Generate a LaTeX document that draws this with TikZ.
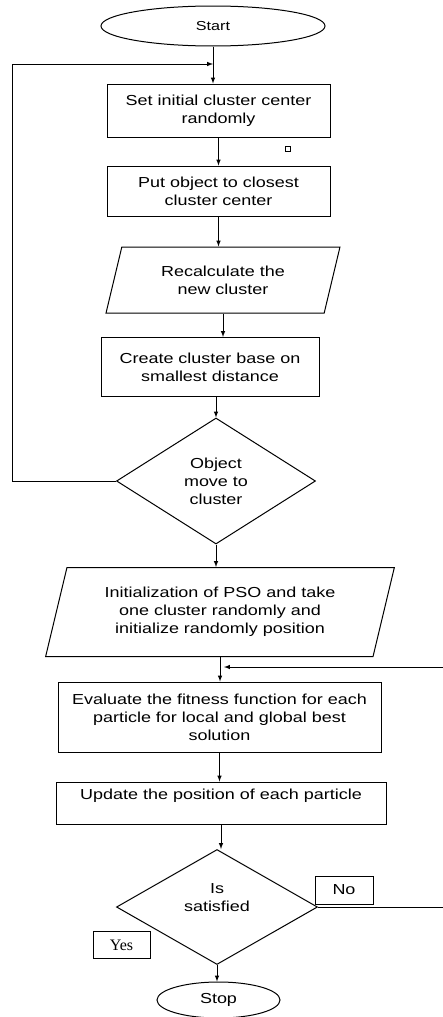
\documentclass[tikz,border=0pt]{standalone}
\usepackage{fontspec}
\setmainfont[FakeStretch=1.24]{Liberation Sans}
\newfontfamily\yesfont{Liberation Serif}
\usepackage{tikz}
\usetikzlibrary{shapes,arrows,shapes.geometric}
\usetikzlibrary{positioning}

\newcommand\boxfont{\fontsize{14.5}{18}\selectfont}
\tikzset{
	blk/.style={draw, rectangle, inner sep=2pt, align=center, font=\boxfont},
	io/.style={draw, trapezium, trapezium left angle=73, trapezium right angle=107,
		trapezium stretches=true, inner sep=2pt, align=center, font=\boxfont},
	dec/.style={draw, diamond, inner sep=0pt, align=center, font=\boxfont},
	term/.style={draw, ellipse, inner sep=0pt},
	tag/.style={draw, rectangle, inner sep=0pt},
}

\begin{document}
\begin{tikzpicture}[line width=1pt,x=1pt,y=-1pt]
		\useasboundingbox (0,0) rectangle (443,1017);
		% k-means part
		\node[term,minimum width=224pt,minimum height=40pt,font=\fontsize{13}{16}\selectfont] (start) at (213,26) {Start};
		\node[blk,minimum width=223pt,minimum height=53pt] (set) at (218.5,110.5) {Set initial cluster center\\randomly};
		\node[blk,minimum width=223pt,minimum height=50pt] (put) at (218.5,191) {Put object to closest\\cluster center};
		\node[io,minimum width=234pt,minimum height=66pt] (recalc) at (223,280) {Recalculate the\\new cluster};
		\node[blk,minimum width=218pt,minimum height=59pt] (create) at (210,367) {Create cluster base on\\smallest distance};
		\node[dec,minimum width=199pt,minimum height=126pt] (objmove) at (216,481) {Object\\move to\\cluster};
		% PSO part
		\node[io,minimum width=350pt,minimum height=89pt] (init) at (220,612) {Initialization of PSO and take\\one cluster randomly and\\initialize randomly position};
		\node[blk,minimum width=323pt,minimum height=70pt] (eval) at (219.5,717) {Evaluate the fitness function for each\\particle for local and global best\\solution};
		\node[blk,minimum width=330pt,minimum height=42pt] (update) at (221,803) {Update the position of each particle\\~};
		\node[dec,minimum width=201pt,minimum height=115pt] (issat) at (217,907) {Is\\satisfied\\~};
		\node[tag,minimum width=58pt,minimum height=28pt,font=\boxfont] (no) at (344,890) {No};
		\node[tag,minimum width=57pt,minimum height=27pt,font=\yesfont\fontsize{16}{18}\selectfont] (yes) at (121.5,945) {Yes};
		\node[term,minimum width=123pt,minimum height=36pt,font=\fontsize{14.5}{18}\selectfont] (stop) at (218.5,1000) {Stop};
		% stray mark
		\draw[line width=0.6pt] (285.5,146.5) rectangle (290.5,151.5);
		% collegamenti
		\coordinate (loopin) at (213,64);
		\coordinate (backin) at (224,667);
		\draw[-latex] (start.south) -- (start.south |- set.north);
		\draw[-latex] (set.south) -- (set.south |- put.north);
		\draw[-latex] (put.south) -- (put.south |- recalc.north);
		\draw[-latex] (recalc.south) -- (recalc.south |- create.north);
		\draw[-latex] (objmove.north |- create.south) -- (objmove.north);
		\draw[-latex] (objmove.west) -- (12,481) |- (loopin);
		\draw[-latex] (objmove.south) -- (objmove.south |- init.north);
		\draw[-latex] (init.south) -- (init.south |- eval.north);
		\draw[-latex] (eval.south) -- (eval.south |- update.north);
		\draw[-latex] (update.south) -- (update.south |- issat.north);
		\draw[-latex] (issat.east) -- (446,907) |- (backin);
		\draw[-latex] (issat.south) -- (issat.south |- stop.north);
	\end{tikzpicture}
\end{document}
